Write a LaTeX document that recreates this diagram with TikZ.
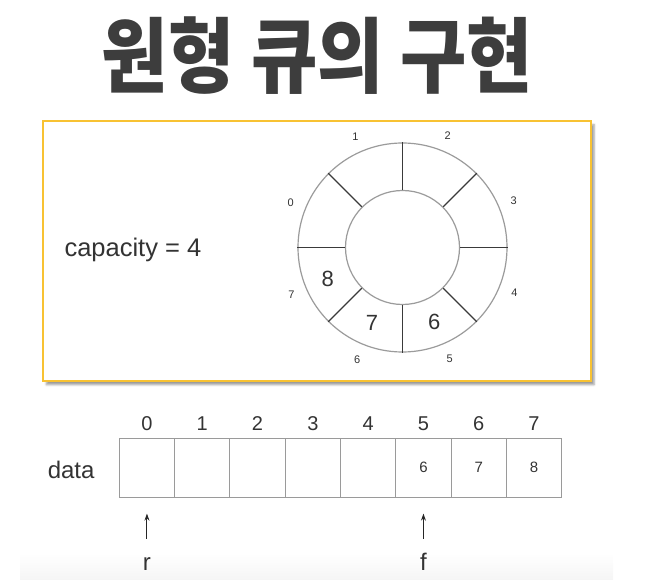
\documentclass[tikz,border=0pt]{standalone}
\usepackage{fontspec}
\setmainfont{Liberation Sans}
\newfontfamily\kofont{Noto Sans CJK KR}[BoldFont={* Black}]
\usepackage{xcolor}
\usetikzlibrary{arrows.meta,positioning,shadows.blur}

\definecolor{panelyellow}{HTML}{F8C232}
\definecolor{ringgray}{HTML}{9B9B9B}
\definecolor{spokegray}{HTML}{3A3A3A}
\definecolor{cellgray}{HTML}{9A9A9A}
\definecolor{titlegray}{HTML}{3D3D3D}
\definecolor{textgray}{HTML}{333333}

\begin{document}
\begin{tikzpicture}[
  x=1pt, y=-1pt,
  >=Stealth,
  every node/.style={text=textgray},
  ring/.style={circle, draw=ringgray, line width=1.2pt, inner sep=0pt},
  guide/.style={circle, inner sep=0pt},
  spoke/.style={draw=spokegray, line width=1.1pt},
  slotnum/.style={font=\fontsize{11}{13}\selectfont},
  slotval/.style={font=\fontsize{22}{26}\selectfont},
  cell/.style={rectangle, draw=cellgray, line width=1.1pt, inner sep=0pt,
    outer sep=0pt, minimum width=55.3pt, minimum height=58.5pt,
    font=\fontsize{15}{18}\selectfont},
  idx/.style={font=\fontsize{20}{24}\selectfont, anchor=base},
  ptrlab/.style={font=\fontsize{24}{28}\selectfont, text height=17pt,
    text depth=0pt, inner sep=0pt, anchor=base},
  ptr/.style={->, line width=1pt, draw=black!85,
    >={Stealth[length=7pt,width=5pt]}},
]
\useasboundingbox (0,0) rectangle (646,580);

% faint band at the bottom
\shade[top color=white, bottom color=black!4] (20,553) rectangle (613,580);

% Title
\node[font=\kofont\bfseries\fontsize{82}{88}\selectfont, text=titlegray,
      xscale=0.88, transform shape] (title) at (317.5,55.6) {원형 큐의 구현};

% Panel with the ring
\node[draw=panelyellow, line width=2pt, fill=white, inner sep=0pt,
      minimum width=547.7pt, minimum height=260pt,
      blur shadow={shadow xshift=3pt, shadow yshift=-4pt, shadow opacity=40}]
      (panel) at (317.2,250.7) {};
\node[font=\fontsize{25.5}{30}\selectfont, anchor=base west] (cap) at (61,256.7) {capacity = 4};

\coordinate (ctr) at (402.5,247.5);
\node[ring, minimum size=209pt] (outer) at (ctr) {};
\node[ring, minimum size=114pt] (inner) at (ctr) {};
\foreach \a in {0,45,...,315}
  \draw[spoke] (inner.\a) -- (outer.\a);

\node[guide, minimum size=241pt] (lblring) at (ctr) {};
\node[guide, minimum size=162pt] (valring) at (ctr) {};
\foreach \i in {0,...,7} {
  \pgfmathtruncatemacro\a{mod(518-45*\i,360)}
  \node[slotnum] (slot\i) at (lblring.\a) {\i};
}
\node[slotval] (val5) at (valring.293) {6};
\node[slotval] (val6) at (valring.248) {7};
\node[slotval] (val7) at (valring.203) {8};

% Array
\foreach \i/\v in {0/{},1/{},2/{},3/{},4/{},5/6,6/7,7/8} {
  \node[cell] (cell\i) at (146.95+55.3*\i,467.8) {\v};
  \node[idx] (n\i) at ([yshift=8pt]cell\i.north) {\i};
}
\node[font=\fontsize{24}{28}\selectfont, anchor=base east] (datalab) at (98,478.6) {data};

% Pointers
\node[ptrlab] (rear) at (cell0.south |- 0,570.7) {r};
\node[ptrlab] (front) at (cell5.south |- 0,570.7) {f};
\draw[ptr, shorten <=15pt, shorten >=16.6pt] (rear.north) -- (cell0.south);
\draw[ptr, shorten <=15pt, shorten >=16.6pt] (front.north) -- (cell5.south);

\end{tikzpicture}
\end{document}
